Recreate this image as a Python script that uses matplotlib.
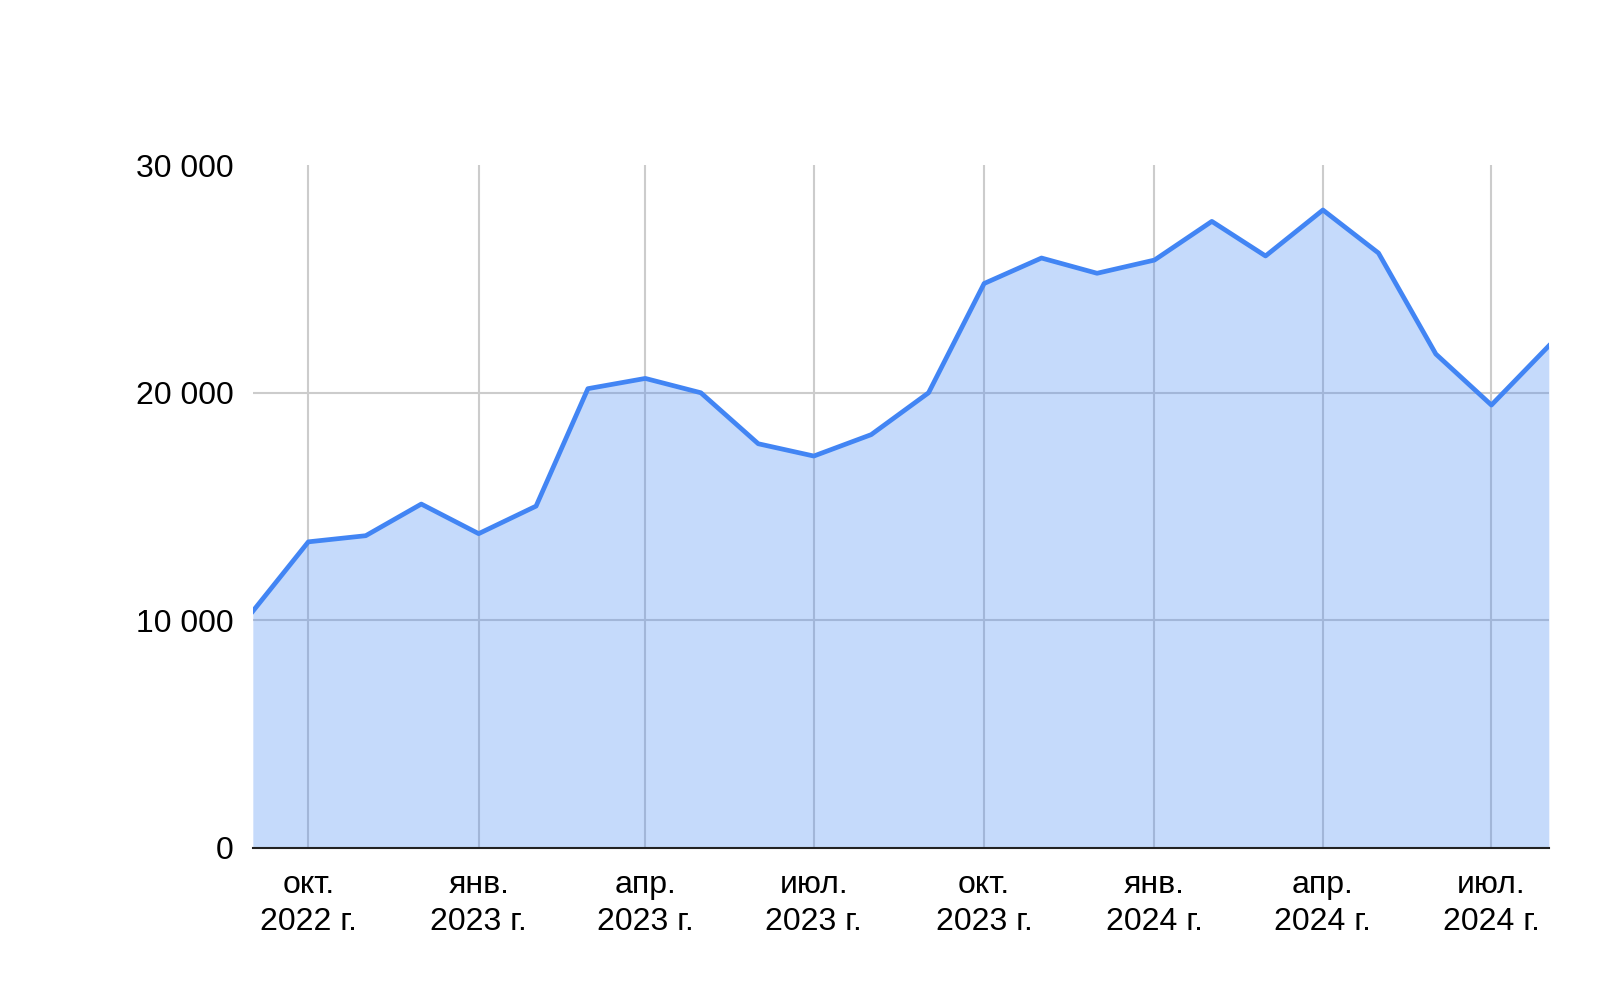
import numpy as np
import matplotlib
matplotlib.use('Agg')
import matplotlib.pyplot as plt
import matplotlib.dates as mdates
from datetime import date

plt.rcParams['font.family'] = ['Liberation Sans', 'DejaVu Sans']

# monthly data, Sep 2022 .. Aug 2024
months = [date(2022, 9, 1), date(2022, 10, 1), date(2022, 11, 1), date(2022, 12, 1),
          date(2023, 1, 1), date(2023, 2, 1), date(2023, 3, 1), date(2023, 4, 1),
          date(2023, 5, 1), date(2023, 6, 1), date(2023, 7, 1), date(2023, 8, 1),
          date(2023, 9, 1), date(2023, 10, 1), date(2023, 11, 1), date(2023, 12, 1),
          date(2024, 1, 1), date(2024, 2, 1), date(2024, 3, 1), date(2024, 4, 1),
          date(2024, 5, 1), date(2024, 6, 1), date(2024, 7, 1), date(2024, 8, 1)]
values = [10400, 13450, 13720, 15110, 13810, 15020, 20180, 20630,
          20000, 17760, 17220, 18160, 20000, 24800, 25920, 25250,
          25830, 27530, 26010, 28030, 26140, 21700, 19460, 22060]

tick_dates = [date(2022, 10, 1), date(2023, 1, 1), date(2023, 4, 1), date(2023, 7, 1),
              date(2023, 10, 1), date(2024, 1, 1), date(2024, 4, 1), date(2024, 7, 1)]
tick_labels = ['окт.\n2022 г.', 'янв.\n2023 г.', 'апр.\n2023 г.', 'июл.\n2023 г.',
               'окт.\n2023 г.', 'янв.\n2024 г.', 'апр.\n2024 г.', 'июл.\n2024 г.']
y_ticks = [0, 10000, 20000, 30000]
y_labels = ['0', '10 000', '20 000', '30 000']
grid_y = [10000, 20000]

blue = '#4285F4'

fig = plt.figure(figsize=(16, 9.89), dpi=100)
ax = fig.add_axes([0.158, 0.1426, 0.81, 0.6904])

# horizontal grid lines (none at the top value)
for g in grid_y:
    ax.axhline(g, color='#cccccc', linewidth=1.5, zorder=1)

ax.fill_between(months, values, 0, color=blue, alpha=0.3, linewidth=0, zorder=2)
ax.plot(months, values, color=blue, linewidth=3.4, zorder=3)

ax.set_xlim(months[0], months[-1])
ax.set_ylim(0, 30000)
ax.set_xticks(tick_dates)
ax.set_xticklabels(tick_labels, fontsize=23, linespacing=1.3)
ax.set_yticks(y_ticks)
ax.set_yticklabels(y_labels, fontsize=23)

ax.grid(True, axis='x', color='#cccccc', linewidth=1.5, zorder=1)
ax.set_axisbelow(True)
ax.tick_params(axis='y', length=0, pad=14)
ax.tick_params(axis='x', length=0, pad=16)
for s in ['top', 'right', 'left']:
    ax.spines[s].set_visible(False)
ax.spines['bottom'].set_color('#222222')
ax.spines['bottom'].set_linewidth(1.5)
ax.spines['bottom'].set_zorder(4)

fig.savefig('out.png', dpi=100)
